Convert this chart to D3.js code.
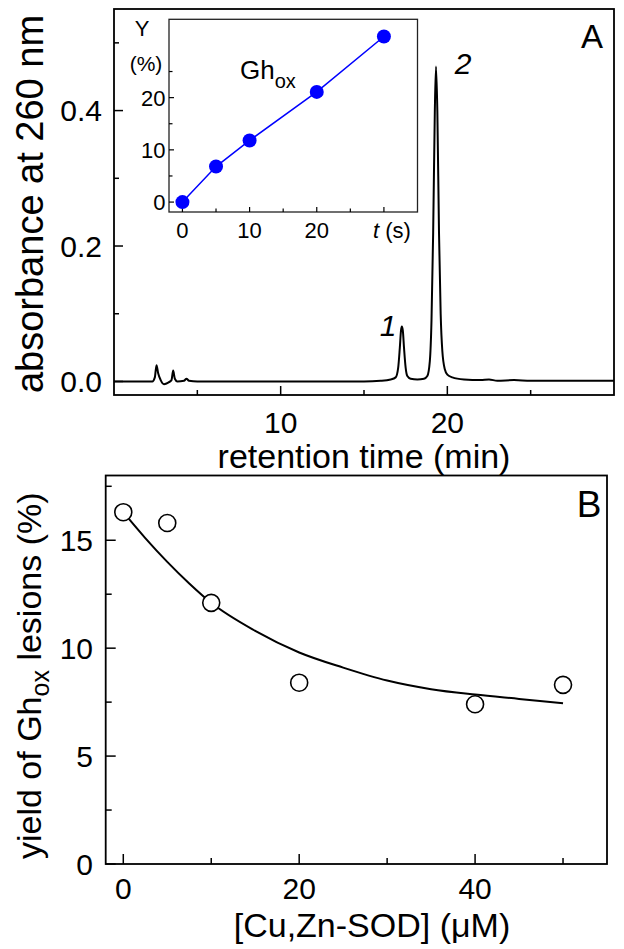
<!DOCTYPE html>
<html><head><meta charset="utf-8">
<script src="https://cdn.jsdelivr.net/npm/d3@7/dist/d3.min.js"></script>
<style>html,body{margin:0;padding:0;background:#fff;}svg{display:block;}</style>
</head><body>
<svg id="c" width="624" height="949"></svg>
<script>
// ---------- DATA ----------
// Panel A: chromatogram (retention time in min, absorbance at 260 nm)
const chromTime = [0,1,2,2.3,2.45,2.55,2.65,2.8,3.0,3.15,3.3,3.45,3.55,3.65,3.8,4.2,4.35,4.5,5,7,10,13,15,16,16.6,16.9,17.05,17.15,17.22,17.27,17.33,17.4,17.5,17.6,17.8,18.2,18.6,18.8,18.95,19.05,19.15,19.25,19.32,19.4,19.5,19.6,19.7,19.85,20.0,20.3,21,22,22.5,23,24,25,27,30];
const chromAbs  = [0,0,0,0,0.006,0.024,0.012,0.002,-0.004,-0.003,-0.001,0.002,0.016,0.004,0,0.001,0.004,0.001,0,0,0,0,0,0.001,0.003,0.006,0.02,0.05,0.075,0.081,0.075,0.05,0.02,0.008,0.004,0.003,0.004,0.008,0.03,0.09,0.22,0.40,0.465,0.40,0.22,0.10,0.045,0.018,0.01,0.006,0.003,0.002,0.003,0.001,0.002,0.001,0.001,0.001];
const peakLabels = ["1","2"];
const peakLabelTime = [16.45, 20.95];
const peakLabelAbs = [0.083, 0.47];
// Panel A ticks
const aXMajor = [10,20], aXMinor = [5,15,25];
const aYMajor = [0,0.2,0.4], aYMinor = [0.1,0.3,0.5];
const aYLabels = ["0.0","0.2","0.4"];
// Inset: Gh_ox yield vs time
const insetT = [0,5,10,20,30];
const insetY = [0,6.8,11.8,21.1,31.7];
const iXMajor = [0,10,20,30], iXMinor = [5,15,25];
const iXLabels = ["0","10","20"];
const iYMajor = [0,10,20], iYMinor = [5,15,25];
// Panel B: yield vs [Cu,Zn-SOD]
const sodConc = [0,5,10,20,40,50];
const sodYield = [16.3,15.8,12.1,8.4,7.4,8.3];
const fitConc = [0,2.5,5,7.5,10,15,20,25,30,35,40,45,50];
const fitYield = [16.3,15.1,14.0,13.0,12.1,10.8,9.8,9.1,8.5,8.1,7.85,7.65,7.45];
const bXMajor = [0,20,40], bXMinor = [10,30,50];
const bYMajor = [0,5,10,15], bYMinor = [2.5,7.5,12.5,17.5];

// ---------- DRAW ----------
const svg = d3.select("#c");
const FONT = "'Liberation Sans', Arial, Helvetica, sans-serif";
svg.append("rect").attr("width",624).attr("height",949).attr("fill","#fff");

function ticks(g, scale, vals, orient, pos, len, w) {
  vals.forEach(v => {
    const p = scale(v);
    if (orient === "bottom") g.append("line").attr("x1",p).attr("x2",p).attr("y1",pos).attr("y2",pos-len);
    else g.append("line").attr("y1",p).attr("y2",p).attr("x1",pos).attr("x2",pos+len);
  });
  g.attr("stroke","#000").attr("stroke-width",w);
}

// ===== Panel A =====
const xA = d3.scaleLinear().domain([0,30]).range([114,614]);
const yA = d3.scaleLinear().domain([-0.02,0.55]).range([395,9]);
const gA = svg.append("g");
gA.append("rect").attr("x",114).attr("y",9).attr("width",500).attr("height",386)
  .attr("fill","none").attr("stroke","#000").attr("stroke-width",1.8);
ticks(gA.append("g"), xA, aXMajor, "bottom", 395, 9, 1.5);
ticks(gA.append("g"), xA, aXMinor, "bottom", 395, 5, 1.5);
ticks(gA.append("g"), yA, aYMajor, "left", 114, 9, 1.5);
ticks(gA.append("g"), yA, aYMinor, "left", 114, 5, 1.5);
gA.selectAll(".ay").data(aYMajor).join("text")
  .attr("x",102).attr("y",d=>yA(d)+10.5).attr("text-anchor","end")
  .attr("font-family",FONT).attr("font-size",30).text((d,i)=>aYLabels[i]);
gA.selectAll(".ax").data(aXMajor).join("text")
  .attr("x",d=>xA(d)).attr("y",433).attr("text-anchor","middle")
  .attr("font-family",FONT).attr("font-size",30).text(d=>d);
gA.append("text").attr("x",364).attr("y",468).attr("text-anchor","middle")
  .attr("font-family",FONT).attr("font-size",34).text("retention time (min)");
gA.append("text").attr("transform","translate(43,204) rotate(-90)").attr("text-anchor","middle")
  .attr("font-family",FONT).attr("font-size",38).text("absorbance at 260 nm");
gA.append("text").attr("x",592).attr("y",48).attr("text-anchor","middle")
  .attr("font-family",FONT).attr("font-size",33).text("A");
// chromatogram
const chrom = chromTime.map((t,i)=>[t,chromAbs[i]]);
gA.append("path").datum(chrom)
  .attr("d", d3.line().x(d=>xA(d[0])).y(d=>yA(d[1])).curve(d3.curveMonotoneX))
  .attr("fill","none").attr("stroke","#000").attr("stroke-width",2);
gA.selectAll(".pl").data(peakLabels).join("text")
  .attr("x",(d,i)=>xA(peakLabelTime[i])).attr("y",(d,i)=>yA(peakLabelAbs[i])+10.5)
  .attr("text-anchor","middle").attr("font-style","italic")
  .attr("font-family",FONT).attr("font-size",30).text(d=>d);

// ===== Inset =====
const xI = d3.scaleLinear().domain([-2,35]).range([169,417.5]);
const yI = d3.scaleLinear().domain([-1.9,35]).range([212,19.3]);
const gI = svg.append("g");
gI.append("rect").attr("x",169).attr("y",19.3).attr("width",248.5).attr("height",192.7)
  .attr("fill","#fff").attr("stroke","#222").attr("stroke-width",1.3);
ticks(gI.append("g"), xI, iXMajor, "bottom", 212, 5, 1.2);
ticks(gI.append("g"), xI, iXMinor, "bottom", 212, 3.5, 1.2);
ticks(gI.append("g"), yI, iYMajor, "left", 169, 5, 1.2);
ticks(gI.append("g"), yI, iYMinor, "left", 169, 3.5, 1.2);
gI.selectAll(".iy").data(iYMajor).join("text")
  .attr("x",165.5).attr("y",d=>yI(d)+8).attr("text-anchor","end")
  .attr("font-family",FONT).attr("font-size",22).text(d=>d);
gI.selectAll(".ix").data(iXLabels).join("text")
  .attr("x",(d,i)=>xI(iXMajor[i])).attr("y",238).attr("text-anchor","middle")
  .attr("font-family",FONT).attr("font-size",22).text(d=>d);
const tl = gI.append("text").attr("x",392).attr("y",238).attr("text-anchor","middle")
  .attr("font-family",FONT).attr("font-size",22);
tl.append("tspan").attr("font-style","italic").text("t");
tl.append("tspan").text(" (s)");
gI.append("text").attr("x",142).attr("y",35.5).attr("text-anchor","middle")
  .attr("font-family",FONT).attr("font-size",22).text("Y");
gI.append("text").attr("x",146).attr("y",71).attr("text-anchor","middle")
  .attr("font-family",FONT).attr("font-size",21).text("(%)");
const gh = gI.append("text").attr("x",240).attr("y",79)
  .attr("font-family",FONT).attr("font-size",26);
gh.append("tspan").text("Gh");
gh.append("tspan").attr("dy",9).attr("font-size",20).text("ox");
const ins = insetT.map((t,i)=>[t,insetY[i]]);
gI.append("path").datum(ins)
  .attr("d", d3.line().x(d=>xI(d[0])).y(d=>yI(d[1])))
  .attr("fill","none").attr("stroke","#0000ff").attr("stroke-width",1.5);
gI.selectAll("circle").data(ins).join("circle")
  .attr("cx",d=>xI(d[0])).attr("cy",d=>yI(d[1])).attr("r",7).attr("fill","#0000ff");

// ===== Panel B =====
const xB = d3.scaleLinear().domain([-2,55]).range([105.7,607]);
const yB = d3.scaleLinear().domain([0,18]).range([864,475.5]);
const gB = svg.append("g");
gB.append("rect").attr("x",105.7).attr("y",475.5).attr("width",501.3).attr("height",388.5)
  .attr("fill","none").attr("stroke","#000").attr("stroke-width",1.8);
ticks(gB.append("g"), xB, bXMajor, "bottom", 864, 10, 1.5);
ticks(gB.append("g"), xB, bXMinor, "bottom", 864, 6, 1.5);
ticks(gB.append("g"), yB, bYMajor, "left", 105.7, 10, 1.5);
ticks(gB.append("g"), yB, bYMinor, "left", 105.7, 6, 1.5);
gB.selectAll(".by").data(bYMajor).join("text")
  .attr("x",93).attr("y",d=>yB(d)+10.5).attr("text-anchor","end")
  .attr("font-family",FONT).attr("font-size",30).text(d=>d);
gB.selectAll(".bx").data(bXMajor).join("text")
  .attr("x",d=>xB(d)).attr("y",899).attr("text-anchor","middle")
  .attr("font-family",FONT).attr("font-size",30).text(d=>d);
gB.append("text").attr("x",372).attr("y",937).attr("text-anchor","middle")
  .attr("font-family",FONT).attr("font-size",34).text("[Cu,Zn-SOD] (\u03bcM)");
const yt = gB.append("text").attr("transform","translate(41,859) rotate(-90)").attr("text-anchor","start")
  .attr("font-family",FONT).attr("font-size",34);
yt.append("tspan").text("yield of Gh");
yt.append("tspan").attr("dy",8).attr("font-size",25).text("ox");
yt.append("tspan").attr("dy",-8).text(" lesions (%)");
gB.append("text").attr("x",589).attr("y",517).attr("text-anchor","middle")
  .attr("font-family",FONT).attr("font-size",37).text("B");
const fit = fitConc.map((c,i)=>[c,fitYield[i]]);
gB.append("path").datum(fit)
  .attr("d", d3.line().x(d=>xB(d[0])).y(d=>yB(d[1])).curve(d3.curveMonotoneX))
  .attr("fill","none").attr("stroke","#000").attr("stroke-width",2);
gB.selectAll("circle").data(sodConc.map((c,i)=>[c,sodYield[i]])).join("circle")
  .attr("cx",d=>xB(d[0])).attr("cy",d=>yB(d[1])).attr("r",8.5)
  .attr("fill","#fff").attr("stroke","#000").attr("stroke-width",1.6);
</script>
</body></html>
